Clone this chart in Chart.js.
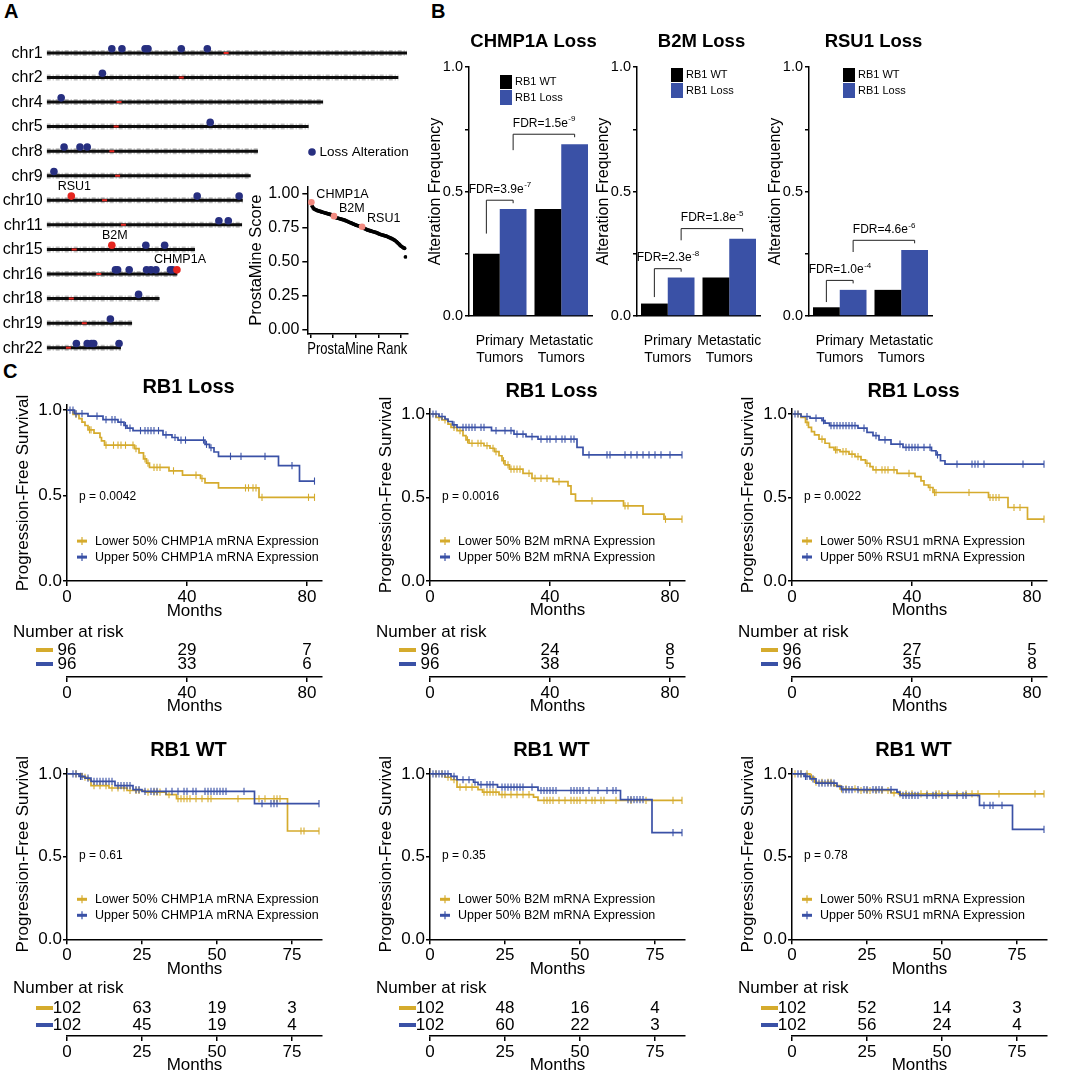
<!DOCTYPE html>
<html>
<head>
<meta charset="utf-8">
<title>RB1 loss co-deletions</title>
<script src="https://cdn.jsdelivr.net/npm/chart.js@4.4.1/dist/chart.umd.min.js"></script>
<style>
  html, body { margin: 0; padding: 0; background: #fff; }
  body { position: relative; width: 1065px; height: 1074px; overflow: hidden; font-family: 'Liberation Sans', Arial, sans-serif; }
  .box { position: absolute; }
  .panel-tag { position: absolute; font-weight: bold; font-size: 20px; line-height: 20px; color: #000; }
</style>
</head>
<body>
<div class="panel-tag" style="left:4px;top:1px">A</div>
<div class="panel-tag" style="left:431px;top:1px">B</div>
<div class="panel-tag" style="left:3px;top:361px">C</div>
<script>
const FONT = "'Liberation Sans', Arial, sans-serif";
const GOLD = '#d5ab2d';
const BLUE = '#3a51a6';
const NAVY = '#272f80';
const RED = '#e52620';
const SALMON = '#f28a80';

// ── Panel A: chromosome map + ProstaMine ranking ─────────────────────────
const chromNames = ['chr1', 'chr2', 'chr4', 'chr5', 'chr8', 'chr9', 'chr10', 'chr11', 'chr15', 'chr16', 'chr18', 'chr19', 'chr22'];
const chromLenMb = [249, 243, 191, 181, 146, 141, 135.5, 135, 102.5, 90.3, 78, 59, 51.3];
const centromereMb = [124, 93, 50, 48, 45, 49, 40, 53, 19, 36, 17, 26, 15];
const lossChr = ['chr1', 'chr1', 'chr1', 'chr1', 'chr1', 'chr1', 'chr2', 'chr4', 'chr5', 'chr8', 'chr8', 'chr8', 'chr9',
  'chr10', 'chr10', 'chr11', 'chr11', 'chr15', 'chr15', 'chr16', 'chr16', 'chr16', 'chr16', 'chr16', 'chr16', 'chr16', 'chr16',
  'chr18', 'chr19', 'chr22', 'chr22', 'chr22', 'chr22', 'chr22'];
const lossMb = [45, 52, 68, 70, 93, 111, 38.5, 10, 113, 12, 23, 28, 5,
  104, 133, 119, 125.5, 68.5, 81.5, 47.5, 49, 57, 69, 72, 75.5, 85.5, 87,
  63.5, 44, 20.5, 28, 31, 32.5, 50];
const geneNames = ['RSU1', 'B2M', 'CHMP1A'];
const geneChr = ['chr10', 'chr15', 'chr16'];
const geneMb = [17, 45, 90];

const prostaScore = [
  0.935, 0.905, 0.893, 0.886, 0.882, 0.879, 0.876, 0.873, 0.871, 0.869,
  0.867, 0.865, 0.863, 0.861, 0.859, 0.857, 0.855, 0.853, 0.851, 0.849,
  0.847, 0.845, 0.843, 0.841, 0.838, 0.833, 0.826, 0.823, 0.821, 0.819,
  0.817, 0.815, 0.813, 0.811, 0.809, 0.807, 0.805, 0.803, 0.800, 0.797,
  0.794, 0.791, 0.788, 0.786, 0.783, 0.780, 0.777, 0.774, 0.771, 0.768,
  0.766, 0.764, 0.762, 0.760, 0.758, 0.757, 0.755, 0.749, 0.745, 0.741,
  0.738, 0.735, 0.732, 0.730, 0.728, 0.726, 0.724, 0.722, 0.720, 0.718,
  0.716, 0.714, 0.712, 0.709, 0.706, 0.703, 0.700, 0.698, 0.696, 0.694,
  0.692, 0.690, 0.688, 0.686, 0.683, 0.680, 0.677, 0.674, 0.671, 0.668,
  0.665, 0.661, 0.657, 0.652, 0.646, 0.640, 0.634, 0.627, 0.620, 0.614,
  0.610, 0.605, 0.600, 0.598, 0.534
];
const prostaGenes = ['CHMP1A', 'B2M', 'RSU1'];
const prostaGeneRank = [1, 26, 57];

// ── Panel B: alteration frequency ────────────────────────────────────────
const tumorGroups = [['Primary', 'Tumors'], ['Metastatic', 'Tumors']];
const chmpWt = [0.25, 0.43], chmpLoss = [0.43, 0.69];
const b2mWt = [0.05, 0.155], b2mLoss = [0.155, 0.31];
const rsuWt = [0.035, 0.105], rsuLoss = [0.105, 0.265];
const chmpFdr = [['3.9', '-7'], ['1.5', '-9']];
const b2mFdr = [['2.3', '-8'], ['1.8', '-5']];
const rsuFdr = [['1.0', '-4'], ['4.6', '-6']];
// bracket [left leg end, bracket top] in frequency units
const chmpBrackets = [[0.331, 0.465], [0.666, 0.730]];
const b2mBrackets = [[0.076, 0.190], [0.304, 0.351]];
const rsuBrackets = [[0.056, 0.143], [0.257, 0.304]];

// ── Panel C: Kaplan-Meier (T = event months, S = survival after, C = censored) ──
const lossChmpLowT = [2, 4, 5, 6, 7, 9, 11, 11.5, 12.5, 22.5, 24, 25.5, 26.5, 27.5, 34, 38.5, 44.5, 46, 50.5, 64];
const lossChmpLowS = [0.975, 0.95, 0.93, 0.91, 0.885, 0.865, 0.84, 0.82, 0.795, 0.775, 0.75, 0.715, 0.69, 0.665, 0.645, 0.62, 0.6, 0.575, 0.545, 0.49];
const lossChmpLowC = [3, 7.5, 8, 13, 15.5, 17, 18, 19.5, 22, 23, 26, 27, 29, 30, 31, 35.5, 43, 45, 59.5, 60.5, 62, 63, 65, 80.5, 82.5];
const lossChmpHighT = [2.5, 7, 12, 17, 19, 20, 22, 32, 35, 37, 46, 47.5, 49, 50.5, 70.5, 77.5];
const lossChmpHighS = [0.98, 0.965, 0.945, 0.93, 0.91, 0.895, 0.88, 0.855, 0.84, 0.825, 0.8, 0.78, 0.755, 0.73, 0.675, 0.585];
const lossChmpHighC = [1, 2, 3, 5, 10, 13, 15, 16, 18, 19.5, 21, 24.5, 26, 27, 28, 29, 30.5, 33, 36, 38, 39.5, 45.5, 46.5, 48, 54.5, 58, 66, 75, 82.5];

const lossB2mLowT = [2, 4, 6, 7, 9, 11, 12, 13, 18, 20, 21.5, 23, 24, 25, 26.5, 31, 34, 41, 46, 47, 48.5, 64.5, 71, 78];
const lossB2mLowS = [0.98, 0.965, 0.94, 0.92, 0.9, 0.87, 0.845, 0.825, 0.81, 0.795, 0.775, 0.75, 0.72, 0.695, 0.67, 0.645, 0.615, 0.595, 0.57, 0.52, 0.48, 0.45, 0.4, 0.37];
const lossB2mLowC = [3, 5, 8, 10, 12.5, 14, 16, 17, 19, 21, 22, 24.5, 26, 27, 28, 29, 30, 33, 35, 37, 39, 43, 54, 65, 66, 78.5, 84];
const lossB2mHighT = [3, 5, 6, 7.5, 9, 20.5, 28, 32, 36, 49, 51];
const lossB2mHighS = [0.985, 0.97, 0.955, 0.935, 0.92, 0.9, 0.88, 0.865, 0.85, 0.8, 0.755];
const lossB2mHighC = [1, 2, 4, 8, 11, 12, 13, 14, 15, 17, 18, 22, 25, 27, 29, 31, 34, 37, 39, 40, 42, 44, 45, 47, 48, 53, 59, 60, 65, 67, 69, 71, 73, 75, 77, 80, 84];

const lossRsuLowT = [3, 4.5, 5.5, 6.5, 7.5, 9, 11, 12.5, 14, 16, 19, 21, 23, 24.5, 26, 27, 35, 41, 43, 44, 45.5, 47, 65.5, 72, 78.5];
const lossRsuLowS = [0.98, 0.95, 0.92, 0.895, 0.875, 0.85, 0.825, 0.8, 0.785, 0.775, 0.76, 0.745, 0.725, 0.705, 0.685, 0.665, 0.645, 0.625, 0.6, 0.575, 0.56, 0.53, 0.5, 0.44, 0.37];
const lossRsuLowC = [2, 5, 10, 14.5, 15, 17, 18, 20, 22, 25, 28, 30, 31, 32, 34, 39, 46, 47.5, 48, 59, 66, 67, 68, 69, 74, 76, 84];
const lossRsuHighT = [3, 6, 10, 11, 12.5, 22, 25, 27, 29, 33, 37, 46.5, 48, 49.5, 51];
const lossRsuHighS = [0.985, 0.975, 0.96, 0.945, 0.93, 0.915, 0.89, 0.87, 0.845, 0.82, 0.8, 0.78, 0.755, 0.72, 0.7];
const lossRsuHighC = [1, 2, 5, 8, 10.5, 13, 14, 15, 16, 17, 18, 19, 20, 21, 24, 28, 31, 36, 38, 39, 40, 41, 42, 44, 46, 48.5, 55, 60, 61, 62, 64, 77, 84];

const wtChmpLowT = [5, 7, 8, 14, 20, 26, 33, 36.5, 73.5];
const wtChmpLowS = [0.98, 0.965, 0.93, 0.915, 0.9, 0.89, 0.875, 0.85, 0.655];
const wtChmpLowC = [3, 6, 9, 11, 13, 15, 17, 19, 21, 23, 24, 27, 29, 30, 31, 34, 37, 38, 39, 40, 41, 43, 45, 47, 48, 57, 64, 66, 69, 70, 71, 78, 79, 84];
const wtChmpHighT = [4, 6, 8, 16, 22, 25, 62.5];
const wtChmpHighS = [0.985, 0.975, 0.955, 0.93, 0.905, 0.895, 0.82];
const wtChmpHighC = [2, 3, 4.5, 5, 7, 9, 10, 11, 12, 13, 14, 15, 17, 18, 19, 20, 21, 23, 24, 26, 28, 29, 30, 33, 35, 37, 39, 40, 42, 43, 46, 47, 48, 49, 50, 51, 52, 53, 59, 65, 68, 69, 70, 84];

const wtB2mLowT = [5, 7, 9, 16, 17.5, 23, 34.5, 36];
const wtB2mLowS = [0.98, 0.965, 0.92, 0.905, 0.89, 0.875, 0.86, 0.84];
const wtB2mLowC = [2, 4, 6, 8, 10, 12, 14, 18, 19, 20, 21, 22, 24, 25, 27, 29, 31, 33, 38, 39, 40, 41, 43, 45, 47, 48, 49, 50, 52, 54, 55, 57, 58, 62, 67, 72, 81, 84];
const wtB2mHighT = [7, 9, 14.5, 16, 22.5, 36, 63.5, 74];
const wtB2mHighS = [0.985, 0.965, 0.95, 0.935, 0.92, 0.9, 0.845, 0.645];
const wtB2mHighC = [1, 2, 3, 4, 5, 6, 8, 11, 13, 15, 17, 19, 20, 21, 24, 25, 26, 27, 28, 29, 30, 31, 34, 37, 38, 39, 40, 41, 42, 47, 48, 49, 50, 51, 53, 56, 59, 61, 62, 66, 67, 68, 69, 70, 71, 81, 84];

const wtRsuLowT = [6, 7.5, 14, 16, 22, 33, 35.5];
const wtRsuLowS = [0.98, 0.95, 0.93, 0.91, 0.9, 0.885, 0.88];
const wtRsuLowC = [1, 3, 5, 6.5, 8, 10, 12, 13, 16.5, 18, 21, 23, 25, 26, 28, 30, 32, 34, 36, 38, 40, 43, 45, 48, 49, 52, 55, 58, 60, 62, 69, 81, 84];
const wtRsuHighT = [4, 6, 8, 15, 16.5, 35, 36, 62.5, 73.5];
const wtRsuHighS = [0.985, 0.97, 0.945, 0.925, 0.905, 0.89, 0.87, 0.81, 0.665];
const wtRsuHighC = [2, 3, 4.5, 5, 7, 9, 10, 11, 12, 13, 14, 17, 18, 19, 20, 22, 24, 25, 27, 28, 29, 30, 33, 37, 38, 39, 40, 41, 42, 45, 47, 48, 50, 52, 55, 57, 58, 64, 66, 67, 70, 84];

const lossRiskTimes = [0, 40, 80];
const wtRiskTimes = [0, 25, 50, 75];
const lossChmpRiskLow = [96, 29, 7], lossChmpRiskHigh = [96, 33, 6];
const lossB2mRiskLow = [96, 24, 8], lossB2mRiskHigh = [96, 38, 5];
const lossRsuRiskLow = [96, 27, 5], lossRsuRiskHigh = [96, 35, 8];
const wtChmpRiskLow = [102, 63, 19, 3], wtChmpRiskHigh = [102, 45, 19, 4];
const wtB2mRiskLow = [102, 48, 16, 4], wtB2mRiskHigh = [102, 60, 22, 3];
const wtRsuRiskLow = [102, 52, 14, 3], wtRsuRiskHigh = [102, 56, 24, 4];

// ── Chart.js setup ───────────────────────────────────────────────────────
Chart.defaults.font.family = FONT;
Chart.defaults.color = '#000';
Chart.defaults.animation = false;
Chart.defaults.events = [];
Chart.defaults.maintainAspectRatio = false;
Chart.defaults.plugins.legend.display = false;
Chart.defaults.plugins.tooltip.enabled = false;

function place(left, top, w, h) {
  const d = document.createElement('div');
  d.className = 'box';
  d.style.cssText = `left:${left}px;top:${top}px;width:${w}px;height:${h}px`;
  const c = document.createElement('canvas');
  d.appendChild(c);
  document.body.appendChild(d);
  return c;
}

// pin a scale's box size so the plot areas line up with the figure
function fixW(w) { return s => { s.width = w; s.paddingLeft = s.paddingRight = s.paddingTop = s.paddingBottom = 0; }; }
function fixH(h) { return s => { s.height = h; s.paddingLeft = s.paddingRight = s.paddingTop = s.paddingBottom = 0; }; }

function linAxis(o) {
  return {
    type: 'linear', min: o.min, max: o.max, afterFit: o.afterFit,
    border: { display: true, color: '#000', width: 1.5 },
    grid: { display: true, drawOnChartArea: false, drawTicks: true, tickLength: o.tl, color: '#000', lineWidth: 1.5 },
    ticks: { stepSize: o.step, includeBounds: false, padding: o.pad, autoSkip: false, maxRotation: 0,
             font: { size: o.fs }, color: '#000', callback: o.cb },
    title: o.title ? { display: true, text: o.title, color: '#000', font: { size: o.tfs }, padding: o.tpad } : { display: false }
  };
}

// ── Panel A ──────────────────────────────────────────────────────────────
const DOT_LIFT = 0.17;

function drawChromosomes() {
  const cv = place(0, 30, 420, 336);
  const ds = [];
  chromNames.forEach((name, i) => {
    const seg = [{ x: 0, y: i }, { x: chromLenMb[i], y: i }];
    ds.push({ type: 'line', data: seg, borderColor: '#bdbdbd', borderWidth: 6, borderDash: [4, 2, 1, 2], pointRadius: 0, order: 4 });
    ds.push({ type: 'line', data: seg, borderColor: '#0d0d0d', borderWidth: 3, pointRadius: 0, order: 3 });
  });
  ds.push({ type: 'scatter', data: centromereMb.map((mb, i) => ({ x: mb, y: i })), pointStyle: 'line',
            pointRadius: 2.5, borderColor: RED, pointBorderColor: RED, pointBorderWidth: 2, order: 2 });
  ds.push({ type: 'scatter', data: lossMb.map((mb, i) => ({ x: mb, y: chromNames.indexOf(lossChr[i]) - DOT_LIFT })),
            pointRadius: 3.8, backgroundColor: NAVY, pointBorderWidth: 0, order: 1 });
  ds.push({ type: 'scatter', data: geneMb.map((mb, i) => ({ x: mb, y: chromNames.indexOf(geneChr[i]) - DOT_LIFT })),
            pointRadius: 3.8, backgroundColor: RED, pointBorderWidth: 0, order: 0 });

  new Chart(cv, {
    type: 'line',
    data: { datasets: ds },
    options: {
      layout: { padding: { top: 10.6, bottom: 3.6, left: 0, right: 13 } },
      scales: {
        x: { type: 'linear', min: 0, max: 249, display: false },
        y: {
          type: 'linear', min: -0.5, max: 12.5, reverse: true, afterFit: fixW(46.7),
          grid: { display: false }, border: { display: false },
          ticks: { display: false }
        }
      }
    },
    plugins: [{
      id: 'chromText',
      afterDatasetsDraw(chart) {
        const { ctx, chartArea: a, scales: { y } } = chart;
        const genePts = chart.getDatasetMeta(chart.data.datasets.length - 1).data;
        ctx.save();
        ctx.fillStyle = '#000';
        ctx.textBaseline = 'middle';
        // chromosome names on the left, placed with the y scale
        ctx.textAlign = 'right';
        ctx.font = `16px ${FONT}`;
        chromNames.forEach((name, i) => ctx.fillText(name, a.left - 4, y.getPixelForValue(i) + 0.5));
        ctx.textAlign = 'center';
        ctx.font = `12.5px ${FONT}`;
        genePts.forEach((p, i) => ctx.fillText(geneNames[i], p.x + 3, p.y - 10));
        ctx.fillStyle = NAVY;
        ctx.beginPath(); ctx.arc(312, 122, 3.8, 0, Math.PI * 2); ctx.fill();
        ctx.fillStyle = '#000';
        ctx.textAlign = 'left';
        ctx.font = `13.5px ${FONT}`;
        ctx.fillText('Loss Alteration', 319.5, 122.5);
        ctx.restore();
      }
    }]
  });
}

function drawProstaMine() {
  const cv = place(240, 160, 180, 199);
  new Chart(cv, {
    type: 'scatter',
    data: {
      datasets: [
        { data: prostaGeneRank.map(r => ({ x: r, y: prostaScore[r - 1] })), pointRadius: 3.3, backgroundColor: SALMON, pointBorderWidth: 0, order: 0 },
        { data: prostaScore.map((s, i) => ({ x: i + 1, y: s })), pointRadius: 1.9, backgroundColor: '#000', pointBorderWidth: 0, order: 1 }
      ]
    },
    options: {
      layout: { padding: { top: 26.5, right: 12.7, left: 0, bottom: 0 } },
      scales: {
        x: linAxis({ min: -3.5, max: 107, step: 25, tl: 4, pad: 0, fs: 16, cb: () => '', title: 'ProstaMine Rank', tfs: 16.5, tpad: 0, afterFit: fixH(25) }),
        y: linAxis({ min: -0.03, max: 1.05, step: 0.25, tl: 5, pad: 3, fs: 16, cb: v => v.toFixed(2), title: 'ProstaMine Score', tfs: 16.5, tpad: { top: 7, bottom: 0 }, afterFit: fixW(67.3) })
      }
    },
    plugins: [{
      id: 'prostaLabels',
      afterDatasetsDraw(chart) {
        const { ctx } = chart;
        const pts = chart.getDatasetMeta(0).data;
        ctx.save();
        ctx.fillStyle = '#000';
        ctx.font = `12.5px ${FONT}`;
        ctx.textBaseline = 'middle';
        ctx.textAlign = 'left';
        pts.forEach((p, i) => ctx.fillText(prostaGenes[i], p.x + 5, p.y - 8));
        ctx.restore();
      }
    }]
  });
}

// ── Panel B ──────────────────────────────────────────────────────────────
const barDecor = {
  id: 'barDecor',
  afterDatasetsDraw(chart, args, o) {
    const { ctx, chartArea: a, scales: { y } } = chart;
    const wt = chart.getDatasetMeta(0).data, ls = chart.getDatasetMeta(1).data;
    ctx.save();
    ctx.fillStyle = '#000';
    ctx.textAlign = 'center';
    ctx.textBaseline = 'middle';
    ctx.font = `bold 18.5px ${FONT}`;
    ctx.fillText(o.title, (a.left + a.right) / 2 + 3, a.top - 25);

    // legend
    const lx = a.left + o.legDx, ly = o.legTop;
    ctx.fillStyle = '#000'; ctx.fillRect(lx, ly, 12, 14);
    ctx.fillStyle = BLUE; ctx.fillRect(lx, ly + 15, 12, 15);
    ctx.fillStyle = '#000';
    ctx.textAlign = 'left';
    ctx.font = `11px ${FONT}`;
    ctx.fillText('RB1 WT', lx + 15, ly + 7);
    ctx.fillText('RB1 Loss', lx + 15, ly + 22.5);

    // FDR brackets
    const pairs = [[wt[0].x, ls[0].x], [ls[0].x, ls[1].x]];
    o.brackets.forEach(([legEnd, top], i) => {
      const [x1, x2] = pairs[i];
      const yt = y.getPixelForValue(top), yl = y.getPixelForValue(legEnd);
      ctx.strokeStyle = '#222';
      ctx.lineWidth = 1;
      ctx.beginPath();
      ctx.moveTo(x1, yl); ctx.lineTo(x1, yt); ctx.lineTo(x2, yt); ctx.lineTo(x2, yt + 3);
      ctx.stroke();
      const [mant, exp] = o.fdr[i];
      const base = `FDR=${mant}e`;
      ctx.font = `12px ${FONT}`;
      const w1 = ctx.measureText(base).width;
      ctx.font = `8px ${FONT}`;
      const w2 = ctx.measureText(exp).width;
      const sx = (x1 + x2) / 2 - (w1 + w2) / 2;
      ctx.textAlign = 'left';
      ctx.font = `12px ${FONT}`;
      ctx.fillText(base, sx, yt - 11);
      ctx.font = `8px ${FONT}`;
      ctx.fillText(exp, sx + w1 + 0.5, yt - 15);
    });
    ctx.restore();
  }
};

function barPanel(left, title, wt, loss, fdr, brackets, legDx, legTop) {
  const cv = place(left, 0, 185, 365);
  new Chart(cv, {
    type: 'bar',
    data: {
      labels: tumorGroups,
      datasets: [
        { label: 'RB1 WT', data: wt, backgroundColor: '#000', categoryPercentage: 0.87, barPercentage: 1 },
        { label: 'RB1 Loss', data: loss, backgroundColor: BLUE, categoryPercentage: 0.87, barPercentage: 1 }
      ]
    },
    options: {
      layout: { padding: { top: 67, right: 13, left: 0, bottom: 0 } },
      plugins: { barDecor: { title, fdr, brackets, legDx, legTop } },
      scales: {
        x: {
          afterFit: fixH(49),
          grid: { display: false },
          border: { display: true, color: '#000', width: 1.5 },
          ticks: { padding: 8.6, font: { size: 14 }, color: '#000', maxRotation: 0, autoSkip: false }
        },
        y: linAxis({ min: 0, max: 1, step: 0.25, tl: 4, pad: 2, fs: 14.5,
                     cb: v => (v % 0.5 === 0 ? v.toFixed(1) : ''),
                     title: 'Alteration Frequency', tfs: 16, tpad: { top: 6.4, bottom: 0 }, afterFit: fixW(49) })
      }
    },
    plugins: [barDecor]
  });
}

// ── Panel C ──────────────────────────────────────────────────────────────
function levelAt(t, s, time) {
  let v = 1;
  for (let i = 0; i < t.length; i++) if (t[i] <= time) v = s[i];
  return v;
}

function stepPoints(t, s, c) {
  const end = Math.max(t[t.length - 1], c[c.length - 1]);
  return [{ x: 0, y: 1 }, ...t.map((ti, i) => ({ x: ti, y: s[i] })), { x: end, y: s[s.length - 1] }];
}

const kmDecor = {
  id: 'kmDecor',
  afterDraw(chart, args, o) {
    const { ctx, chartArea: a, scales: { y } } = chart;
    ctx.save();
    ctx.fillStyle = '#000';
    ctx.textBaseline = 'middle';
    ctx.textAlign = 'center';
    ctx.font = `bold 20px ${FONT}`;
    ctx.fillText(o.title, (a.left + a.right) / 2 - 6, y.getPixelForValue(1) - 23);
    ctx.textAlign = 'left';
    ctx.font = `12px ${FONT}`;
    ctx.fillText(o.p, a.left + 12, a.bottom - 84);
    const labels = [`Lower 50% ${o.gene} mRNA Expression`, `Upper 50% ${o.gene} mRNA Expression`];
    [GOLD, BLUE].forEach((col, i) => {
      const yy = a.bottom - 40 + i * 16, xx = a.left + 15;
      ctx.strokeStyle = col;
      ctx.lineWidth = 3;
      ctx.beginPath(); ctx.moveTo(xx - 5, yy); ctx.lineTo(xx + 5, yy); ctx.stroke();
      ctx.lineWidth = 1.2;
      ctx.beginPath(); ctx.moveTo(xx, yy - 4); ctx.lineTo(xx, yy + 4); ctx.stroke();
      ctx.fillStyle = '#000';
      ctx.font = `12.5px ${FONT}`;
      ctx.fillText(labels[i], a.left + 28, yy + 0.5);
    });
    ctx.restore();
  }
};

function kmPanel(g, title, p, gene, low, high, tickStep) {
  const unit = g.y0 - g.y1;
  const top = g.y1 - 0.03 * unit;
  const padTop = 40;
  const cv = place(g.x0 - 67, top - padTop, 342, padTop + (g.y0 - top) + 40);
  const datasets = [];
  [[high, BLUE], [low, GOLD]].forEach(([[t, s, c], col]) => {
    datasets.push({ type: 'line', data: stepPoints(t, s, c), stepped: true, borderColor: col, borderWidth: 1.7, pointRadius: 0, fill: false });
    datasets.push({ type: 'line', showLine: false, data: c.map(x => ({ x, y: levelAt(t, s, x) })),
                    pointStyle: 'line', pointRotation: 90, pointRadius: 3.6, pointBorderColor: col, pointBorderWidth: 1.1, borderColor: col });
  });
  new Chart(cv, {
    type: 'line',
    data: { datasets },
    options: {
      layout: { padding: { top: padTop, right: 20, left: 0, bottom: 0 } },
      plugins: { kmDecor: { title, p, gene } },
      scales: {
        x: linAxis({ min: 0, max: 85, step: tickStep, tl: 5, pad: 1, fs: 17, cb: v => v, title: 'Months', tfs: 17, tpad: 0, afterFit: fixH(40) }),
        y: linAxis({ min: 0, max: 1.03, step: 0.5, tl: 4, pad: 1, fs: 17, cb: v => v.toFixed(1),
                     title: 'Progression-Free Survival', tfs: 17, tpad: { top: 13, bottom: 0 }, afterFit: fixW(67) })
      }
    },
    plugins: [kmDecor]
  });
}

const riskDecor = {
  id: 'riskDecor',
  afterDraw(chart, args, o) {
    const { ctx, chartArea: a, scales: { x } } = chart;
    ctx.save();
    ctx.font = `17px ${FONT}`;
    ctx.fillStyle = '#000';
    ctx.textBaseline = 'middle';
    ctx.textAlign = 'left';
    ctx.fillText('Number at risk', a.left - 54, a.bottom - o.head);
    [[o.low, GOLD, o.offLow], [o.high, BLUE, o.offHigh]].forEach(([vals, col, off]) => {
      const yy = a.bottom - off;
      ctx.strokeStyle = col;
      ctx.lineWidth = 4;
      ctx.beginPath(); ctx.moveTo(a.left - 31, yy); ctx.lineTo(a.left - 14, yy); ctx.stroke();
      ctx.fillStyle = '#000';
      ctx.textAlign = 'center';
      vals.forEach((n, i) => ctx.fillText(String(n), x.getPixelForValue(o.times[i]), yy + 0.5));
    });
    ctx.restore();
  }
};

function riskTable(x0, axisY, times, low, high, tickStep, offLow, offHigh, head) {
  const cv = place(x0 - 67, axisY - 60, 342, 100);
  new Chart(cv, {
    type: 'scatter',
    data: { datasets: [] },
    options: {
      layout: { padding: { top: 10, right: 20, left: 67, bottom: 0 } },
      plugins: { riskDecor: { times, low, high, offLow, offHigh, head } },
      scales: {
        x: linAxis({ min: 0, max: 85, step: tickStep, tl: 5, pad: 1, fs: 17, cb: v => v, title: 'Months', tfs: 17, tpad: 0, afterFit: fixH(40) }),
        y: { display: false, min: 0, max: 1 }
      }
    },
    plugins: [riskDecor]
  });
}

// ── Build ────────────────────────────────────────────────────────────────
drawChromosomes();
drawProstaMine();

barPanel(420, 'CHMP1A Loss', chmpWt, chmpLoss, chmpFdr, chmpBrackets, 31, 75);
barPanel(588, 'B2M Loss', b2mWt, b2mLoss, b2mFdr, b2mBrackets, 34, 68);
barPanel(760, 'RSU1 Loss', rsuWt, rsuLoss, rsuFdr, rsuBrackets, 34, 68);

kmPanel({ x0: 67, y1: 410, y0: 581 }, 'RB1 Loss', 'p = 0.0042', 'CHMP1A',
  [lossChmpLowT, lossChmpLowS, lossChmpLowC], [lossChmpHighT, lossChmpHighS, lossChmpHighC], 40);
kmPanel({ x0: 430, y1: 414, y0: 581 }, 'RB1 Loss', 'p = 0.0016', 'B2M',
  [lossB2mLowT, lossB2mLowS, lossB2mLowC], [lossB2mHighT, lossB2mHighS, lossB2mHighC], 40);
kmPanel({ x0: 792, y1: 414, y0: 581 }, 'RB1 Loss', 'p = 0.0022', 'RSU1',
  [lossRsuLowT, lossRsuLowS, lossRsuLowC], [lossRsuHighT, lossRsuHighS, lossRsuHighC], 40);

riskTable(67, 677, lossRiskTimes, lossChmpRiskLow, lossChmpRiskHigh, 40, 27, 13, 45);
riskTable(430, 677, lossRiskTimes, lossB2mRiskLow, lossB2mRiskHigh, 40, 27, 13, 45);
riskTable(792, 677, lossRiskTimes, lossRsuRiskLow, lossRsuRiskHigh, 40, 27, 13, 45);

kmPanel({ x0: 67, y1: 774, y0: 939.3 }, 'RB1 WT', 'p = 0.61', 'CHMP1A',
  [wtChmpLowT, wtChmpLowS, wtChmpLowC], [wtChmpHighT, wtChmpHighS, wtChmpHighC], 25);
kmPanel({ x0: 429.5, y1: 774, y0: 939.3 }, 'RB1 WT', 'p = 0.35', 'B2M',
  [wtB2mLowT, wtB2mLowS, wtB2mLowC], [wtB2mHighT, wtB2mHighS, wtB2mHighC], 25);
kmPanel({ x0: 792, y1: 774, y0: 939.3 }, 'RB1 WT', 'p = 0.78', 'RSU1',
  [wtRsuLowT, wtRsuLowS, wtRsuLowC], [wtRsuHighT, wtRsuHighS, wtRsuHighC], 25);

riskTable(67, 1036, wtRiskTimes, wtChmpRiskLow, wtChmpRiskHigh, 25, 28, 11, 48);
riskTable(429.5, 1036, wtRiskTimes, wtB2mRiskLow, wtB2mRiskHigh, 25, 28, 11, 48);
riskTable(792, 1036, wtRiskTimes, wtRsuRiskLow, wtRsuRiskHigh, 25, 28, 11, 48);
</script>
</body>
</html>
